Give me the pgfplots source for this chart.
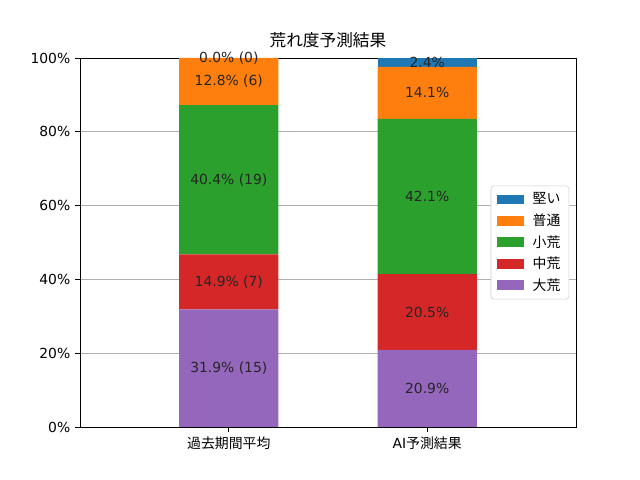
\documentclass[border=0pt]{standalone}
\usepackage{pgfplots}
\usepackage{pgfplotstable}
\pgfplotsset{compat=1.18}
\usepackage{fontspec}
\setmainfont{DejaVu Sans}
\newfontfamily\cjk{Noto Sans CJK JP}
\definecolor{c1}{HTML}{1F77B4}
\definecolor{c2}{HTML}{FF7F0E}
\definecolor{c3}{HTML}{2CA02C}
\definecolor{c4}{HTML}{D62728}
\definecolor{c5}{HTML}{9467BD}
\pgfplotstableread{
x daikou chukou shoukou futsuu katai
0 31.9 14.9 40.4 12.8 0.0
1 20.9 20.5 42.1 14.1 2.4
}\data
\pgfplotstableread[col sep=comma]{
x,y,label
0,15.95,31.9\% (15)
0,39.35,14.9\% (7)
0,67.0,40.4\% (19)
0,93.6,12.8\% (6)
0,100.0,0.0\% (0)
1,10.45,20.9\%
1,31.15,20.5\%
1,62.45,42.1\%
1,90.55,14.1\%
1,98.8,2.4\%
}\labels
\begin{document}
\begin{tikzpicture}
\path (0,0) rectangle (460.8pt,345.6pt);
\begin{axis}[
  at={(57.6pt,38.16pt)}, anchor=south west,
  scale only axis, width=357.12pt, height=265.68pt,
  xmin=-0.75, xmax=1.75, ymin=0, ymax=100,
  ybar stacked, bar width=0.5,
  xtick={0,1}, xticklabels={{\cjk 過去期間平均},{AI\cjk 予測結果}},
  ytick={0,20,40,60,80,100},
  yticklabel={\pgfmathprintnumber{\tick}\%},
  /pgf/number format/assume math mode=true,
  tick align=outside, xtick pos=left, ytick pos=left,
  major tick length=3.5pt,
  tick style={black, line width=0.6pt},
  axis line style={line width=0.6pt},
  ymajorgrids, grid style={color=black!31, line width=0.6pt},
  ticklabel style={font=\fontsize{10}{12}\selectfont},
  title={\cjk 荒れ度予測結果},
  title style={font=\fontsize{12}{14}\selectfont, yshift=-2pt},
  reverse legend,
  legend style={at={(1,0.5)}, anchor=east, xshift=-5pt,
    draw=black!20, rounded corners=2pt, fill=white,
    font=\fontsize{10}{12}\selectfont\cjk, row sep=1.6pt, inner xsep=4pt, inner ysep=3pt},
  legend cell align=left,
  legend image code/.code={\fill[#1, sharp corners] (0pt,-3.5pt) rectangle (20pt,3.5pt); \path (24pt,0pt);},
]
\addplot[fill=c5, draw=none] table[x=x, y=daikou] {\data};
\addlegendentry{大荒}
\addplot[fill=c4, draw=none] table[x=x, y=chukou] {\data};
\addlegendentry{中荒}
\addplot[fill=c3, draw=none] table[x=x, y=shoukou] {\data};
\addlegendentry{小荒}
\addplot[fill=c2, draw=none] table[x=x, y=futsuu] {\data};
\addlegendentry{普通}
\addplot[fill=c1, draw=none] table[x=x, y=katai] {\data};
\addlegendentry{堅い}
\end{axis}
\begin{axis}[
  at={(57.6pt,38.16pt)}, anchor=south west,
  scale only axis, width=357.12pt, height=265.68pt,
  xmin=-0.75, xmax=1.75, ymin=0, ymax=100,
  hide axis,
]
\addplot[draw=none, nodes near coords, point meta=explicit symbolic,
  nodes near coords align={center},
  every node near coord/.append style={font=\fontsize{10}{12}\selectfont, text=black!85}]
  table[x=x, y=y, meta=label] {\labels};
\end{axis}
\end{tikzpicture}
\end{document}
